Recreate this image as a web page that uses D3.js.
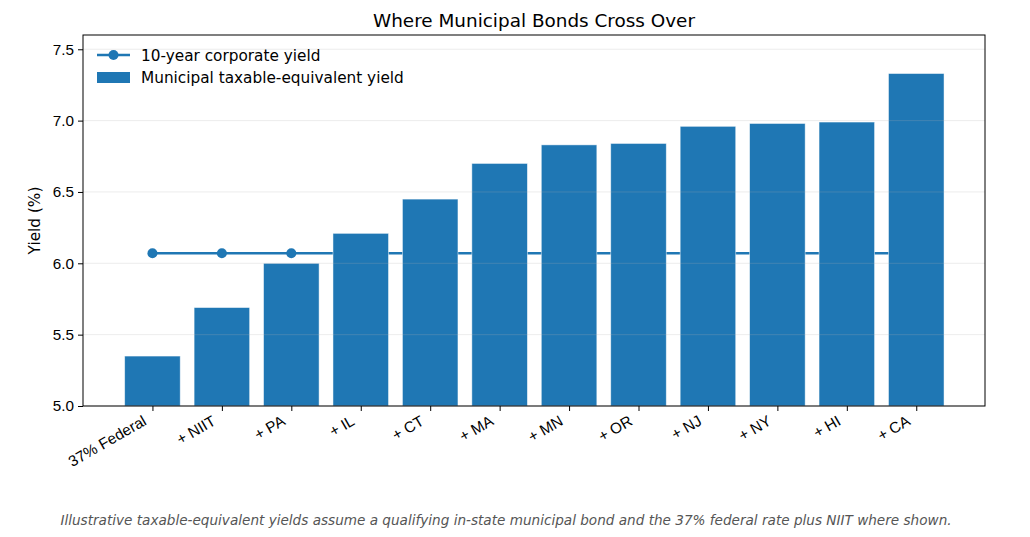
<!DOCTYPE html>
<html>
<head>
<meta charset="utf-8">
<script src="https://cdn.jsdelivr.net/npm/d3@7"></script>
<style>
  body { margin: 0; background: #fff; }
  svg { font-family: "DejaVu Sans", sans-serif; }
</style>
</head>
<body>
<svg id="chart" width="1030" height="537"></svg>
<script>
const categories = ["37% Federal", "+ NIIT", "+ PA", "+ IL", "+ CT", "+ MA", "+ MN", "+ OR", "+ NJ", "+ NY", "+ HI", "+ CA"];
const muniYield = [5.35, 5.69, 6.00, 6.21, 6.45, 6.70, 6.83, 6.84, 6.96, 6.98, 6.99, 7.33];
const corpYield = [6.07, 6.07, 6.07, 6.07, 6.07, 6.07, 6.07, 6.07, 6.07, 6.07, 6.07, 6.07];
const yTicks = [5.0, 5.5, 6.0, 6.5, 7.0, 7.5];

const blue = "#1f77b4";
const plotL = 83, plotR = 985, plotT = 35, plotB = 406;
const fs = 15.3;

const svg = d3.select("#chart");

const x = d3.scaleLinear().domain([-1.0, categories.length - 0.01]).range([plotL, plotR]);
const y = d3.scaleLinear().domain([5.0, 7.6]).range([plotB, plotT]);
const barW = x(0.8) - x(0);

// corporate line goes under the bars
const line = d3.line().x((d, i) => x(i)).y(d => y(d));
svg.append("path")
   .datum(corpYield)
   .attr("d", line)
   .attr("fill", "none")
   .attr("stroke", blue)
   .attr("stroke-width", 2.6);

svg.selectAll("circle.pt")
   .data(corpYield)
   .enter()
   .append("circle")
   .attr("class", "pt")
   .attr("cx", (d, i) => x(i))
   .attr("cy", d => y(d))
   .attr("r", 5)
   .attr("fill", blue);

svg.selectAll("rect.bar")
   .data(muniYield)
   .enter()
   .append("rect")
   .attr("class", "bar")
   .attr("x", (d, i) => x(i) - barW / 2)
   .attr("y", d => y(d))
   .attr("width", barW)
   .attr("height", d => y(5.0) - y(d))
   .attr("fill", blue)
   .attr("stroke", "rgba(255,255,255,0.6)")
   .attr("stroke-width", 0.8);

// grid on top, faint
svg.append("g")
   .selectAll("line")
   .data(yTicks)
   .enter()
   .append("line")
   .attr("x1", plotL).attr("x2", plotR)
   .attr("y1", d => y(d)).attr("y2", d => y(d))
   .attr("stroke", "#b0b0b0")
   .attr("stroke-opacity", 0.3)
   .attr("stroke-width", 0.8);

// axes
const yAxis = d3.axisLeft(y).tickValues(yTicks).tickFormat(d3.format(".1f")).tickSize(5).tickPadding(4);
const gy = svg.append("g").attr("transform", `translate(${plotL},0)`).call(yAxis);
gy.select(".domain").remove();
gy.selectAll("text").attr("font-size", fs).attr("fill", "#000");
gy.selectAll("line").attr("stroke", "#000");

const xAxis = d3.axisBottom(x).tickValues(d3.range(categories.length)).tickFormat(i => categories[i]).tickSize(5);
const gx = svg.append("g").attr("transform", `translate(0,${plotB})`).call(xAxis);
gx.select(".domain").remove();
gx.selectAll("line").attr("stroke", "#000");
gx.selectAll("text")
  .attr("font-size", fs)
  .attr("fill", "#000")
  .attr("text-anchor", "end")
  .attr("y", 0)
  .attr("dy", 0)
  .attr("transform", "translate(-5.5,18) rotate(-30)");

svg.append("rect")
   .attr("x", plotL).attr("y", plotT)
   .attr("width", plotR - plotL).attr("height", plotB - plotT)
   .attr("fill", "none").attr("stroke", "#000").attr("stroke-width", 1);

// labels
svg.append("text")
   .attr("x", (plotL + plotR) / 2).attr("y", 27)
   .attr("text-anchor", "middle")
   .attr("font-size", 18.4)
   .text("Where Municipal Bonds Cross Over");

svg.append("text")
   .attr("transform", `translate(40,${(plotT + plotB) / 2}) rotate(-90)`)
   .attr("text-anchor", "middle")
   .attr("font-size", fs)
   .text("Yield (%)");

svg.append("text")
   .attr("x", 506).attr("y", 525)
   .attr("text-anchor", "middle")
   .attr("font-size", 13.6)
   .attr("font-style", "italic")
   .attr("fill", "#555")
   .text("Illustrative taxable-equivalent yields assume a qualifying in-state municipal bond and the 37% federal rate plus NIIT where shown.");

// legend
const lg = svg.append("g").attr("transform", "translate(97,55)");
lg.append("line").attr("x1", 0).attr("x2", 33).attr("y1", 0).attr("y2", 0)
  .attr("stroke", blue).attr("stroke-width", 2.6);
lg.append("circle").attr("cx", 16.5).attr("cy", 0).attr("r", 5).attr("fill", blue);
lg.append("text").attr("x", 44).attr("y", 5.5).attr("font-size", fs).text("10-year corporate yield");
lg.append("rect").attr("x", 0).attr("y", 17).attr("width", 33).attr("height", 11).attr("fill", blue);
lg.append("text").attr("x", 44).attr("y", 27.5).attr("font-size", fs).text("Municipal taxable-equivalent yield");
</script>
</body>
</html>
